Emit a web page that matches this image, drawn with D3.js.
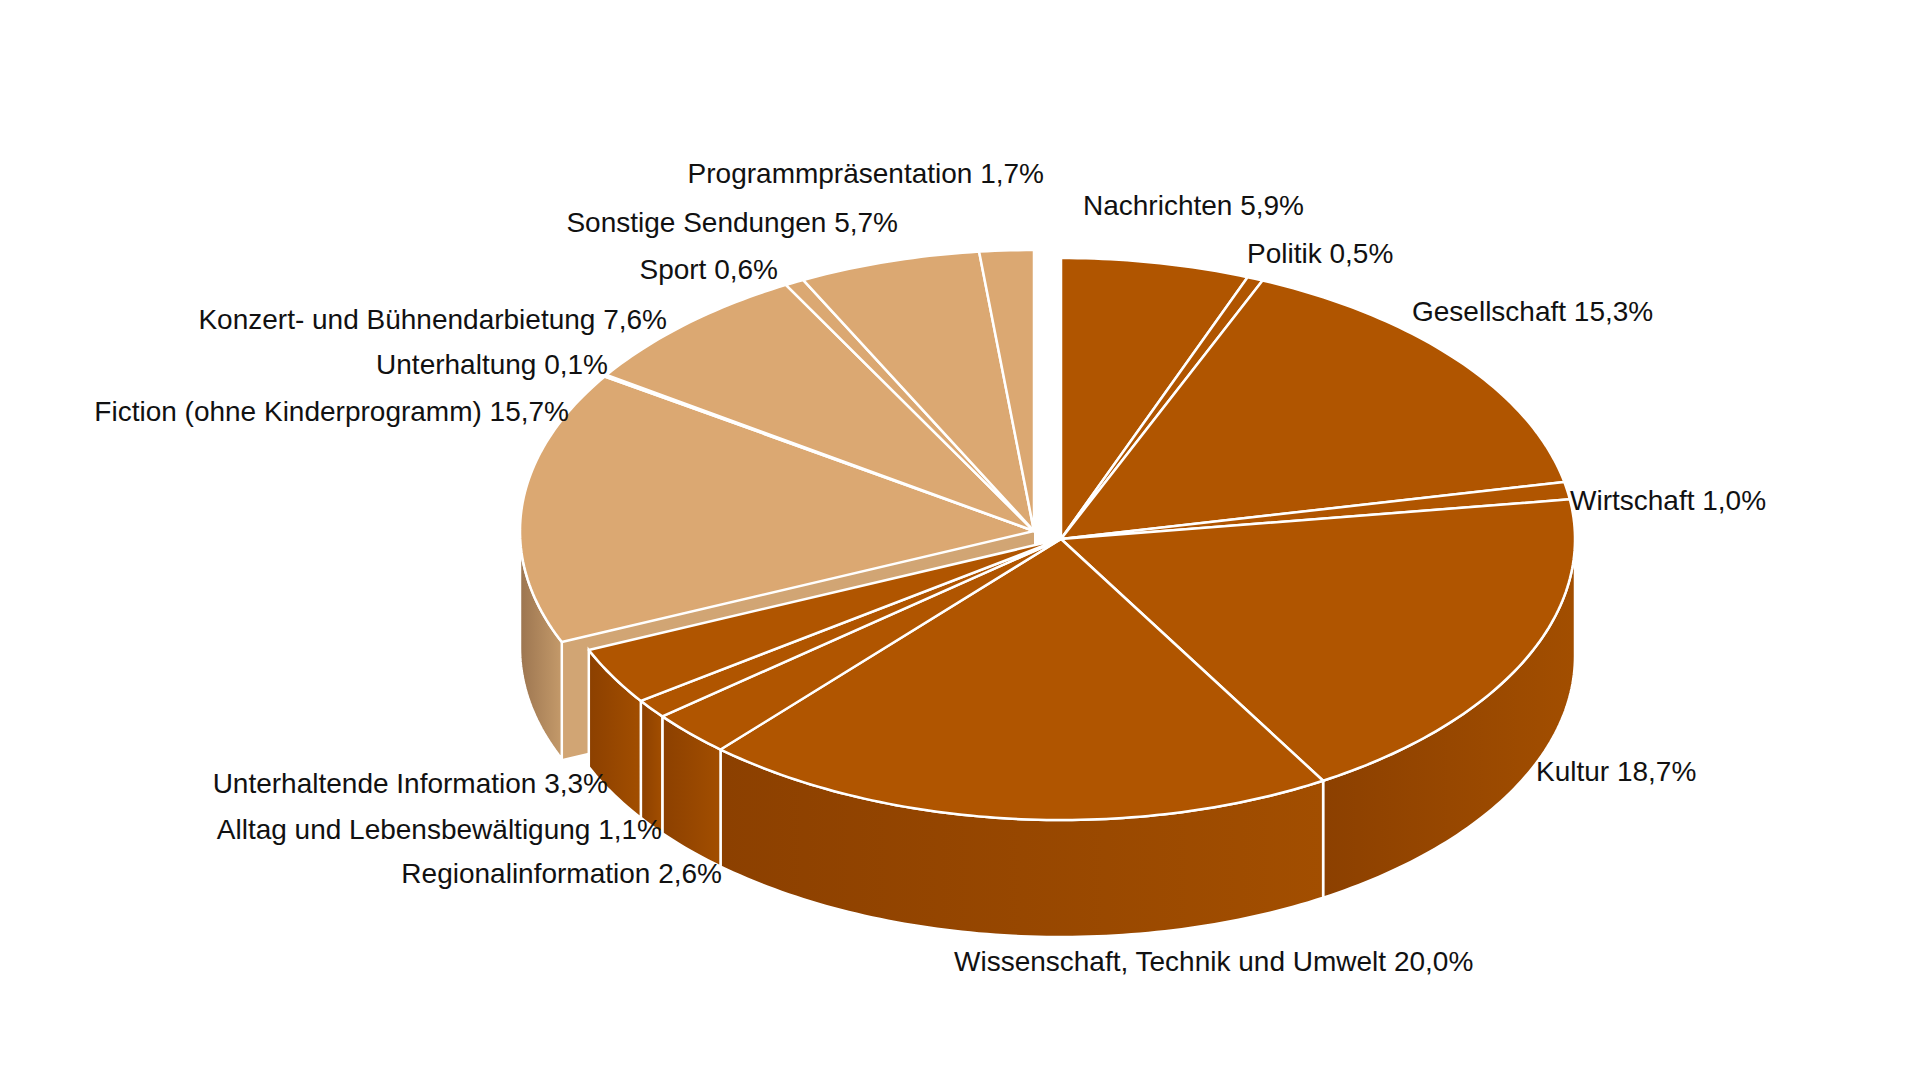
<!DOCTYPE html>
<html><head><meta charset="utf-8">
<script src="https://cdn.jsdelivr.net/npm/d3@7"></script>
<style>body{margin:0;background:#fff}</style></head>
<body><svg id="c" width="1920" height="1080"></svg>
<script>
const categories = ["Nachrichten","Politik","Gesellschaft","Wirtschaft","Kultur","Wissenschaft, Technik und Umwelt","Regionalinformation","Alltag und Lebensbewältigung","Unterhaltende Information","Fiction (ohne Kinderprogramm)","Unterhaltung","Konzert- und Bühnendarbietung","Sport","Sonstige Sendungen","Programmpräsentation"];
const values = [5.9,0.5,15.3,1.0,18.7,20.0,2.6,1.1,3.3,15.7,0.1,7.6,0.6,5.7,1.7];
const groups = ["info","info","info","info","info","info","info","info","info","ent","ent","ent","ent","ent","ent"];
const labelPos = [[1083,208,"start"],[1247,256,"start"],[1412,314,"start"],[1570,503,"start"],[1536,774,"start"],[954,964,"start"],[722,876,"end"],[662,832,"end"],[608,786,"end"],[569,414,"end"],[608,367,"end"],[667,322,"end"],[778,272,"end"],[898,225,"end"],[1044,176,"end"]];

const svg = d3.select("#c");
const cx=1061, cy=539, rx=514, ry=281, depth=117;
const offs = {info:[0,0], ent:[-27,-8]};
const topCol = {info:"#b05500", ent:"#dba872"};
const pie = d3.pie().sort(null).value(d=>d.v).startAngle(0).endAngle(2*Math.PI);
const arcs = pie(values.map((v,i)=>({v,g:groups[i],name:categories[i]})));
const angle = d3.scaleLinear().domain([0,2*Math.PI]).range([0,2*Math.PI]);
function pt(t,o,dy=0){return [cx+o[0]+rx*Math.sin(t), cy+o[1]-ry*Math.cos(t)+dy];}

const defs=svg.append("defs");
[["info","#8c4000","#a24e00"],["ent","#9c7550","#c49a6a"]].forEach(([k,a,b])=>{
  const g=defs.append("linearGradient").attr("id","side"+k).attr("x1","0").attr("x2","1");
  g.append("stop").attr("offset","0").attr("stop-color",a);
  g.append("stop").attr("offset","1").attr("stop-color",b);
});

function topPath(a){
  const o=offs[a.data.g]; const p=d3.path();
  p.moveTo(cx+o[0],cy+o[1]);
  const n=Math.max(2,Math.ceil((a.endAngle-a.startAngle)*60));
  for(let i=0;i<=n;i++){const t=a.startAngle+(a.endAngle-a.startAngle)*i/n;const q=pt(t,o);p.lineTo(q[0],q[1]);}
  p.closePath(); return p.toString();
}
function sidePath(a){
  const s=Math.max(a.startAngle,Math.PI/2), e=Math.min(a.endAngle,3*Math.PI/2);
  if(e<=s) return null;
  const o=offs[a.data.g]; const p=d3.path(); const n=Math.max(2,Math.ceil((e-s)*60));
  for(let i=0;i<=n;i++){const t=s+(e-s)*i/n;const q=pt(t,o);i?p.lineTo(q[0],q[1]):p.moveTo(q[0],q[1]);}
  for(let i=n;i>=0;i--){const t=s+(e-s)*i/n;const q=pt(t,o,depth);p.lineTo(q[0],q[1]);}
  p.closePath(); return p.toString();
}
function draw(g){
  const sel=arcs.filter(a=>a.data.g===g);
  if(g==="ent"){ // cut face at the start of the exploded group
    const a=sel[0], o=offs.ent, r=pt(a.startAngle,o);
    svg.append("path").attr("d",`M${cx+o[0]},${cy+o[1]}L${r[0]},${r[1]}L${r[0]},${r[1]+depth}L${cx+o[0]},${cy+o[1]+depth}Z`).attr("fill","#d1a574");
  }
  sel.forEach(a=>{const d=sidePath(a); if(d) svg.append("path").attr("d",d).attr("fill",`url(#side${g})`).attr("stroke","#fff").attr("stroke-width",2.5);});
  sel.forEach(a=>svg.append("path").attr("d",topPath(a)).attr("fill",topCol[g]).attr("stroke","#fff").attr("stroke-width",2.5).attr("stroke-linejoin","round"));
}
draw("ent"); draw("info");

svg.selectAll("text.l").data(arcs).enter().append("text")
  .attr("x",(d,i)=>labelPos[i][0]).attr("y",(d,i)=>labelPos[i][1])
  .attr("text-anchor",(d,i)=>labelPos[i][2]).attr("dominant-baseline","middle")
  .attr("font-family","Liberation Sans, Arial, sans-serif").attr("font-size",28).attr("fill","#111")
  .text(d=>d.data.name+" "+d.data.v.toFixed(1).replace(".",",")+"%");
</script></body></html>
